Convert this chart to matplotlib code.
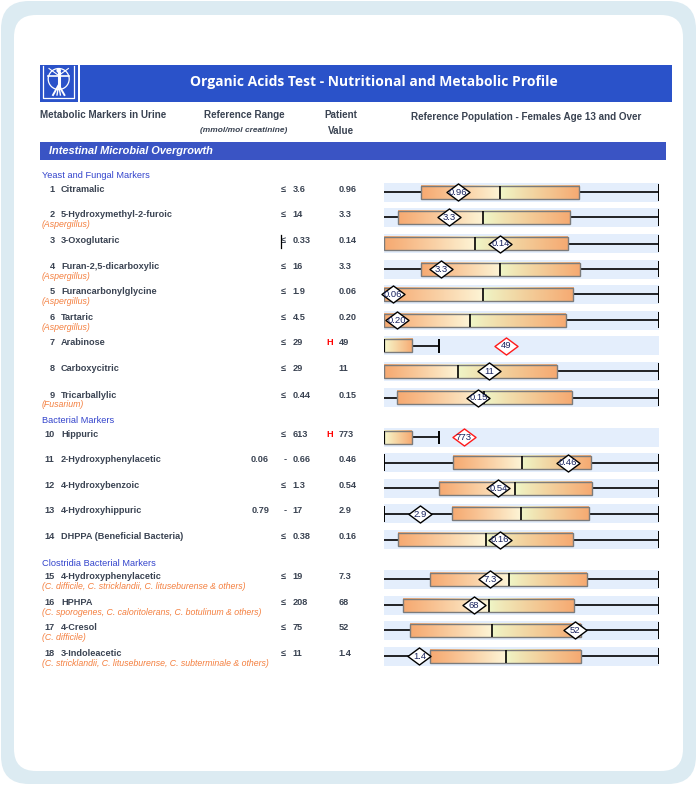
import numpy as np
import matplotlib
matplotlib.use("Agg")
import matplotlib.pyplot as plt
from matplotlib.patches import FancyBboxPatch, Rectangle, Circle
from matplotlib.path import Path
from matplotlib.colors import to_rgb

# ---------------- data ----------------
title = "Organic Acids Test - Nutritional and Metabolic Profile"
section = "Intestinal Microbial Overgrowth"
groups = ["Yeast and Fungal Markers", "Bacterial Markers", "Clostridia Bacterial Markers"]
group_first_row = [1, 10, 15]
numbers = list(range(1, 19))
names = ["Citramalic", "5-Hydroxymethyl-2-furoic", "3-Oxoglutaric", "Furan-2,5-dicarboxylic",
         "Furancarbonylglycine", "Tartaric", "Arabinose", "Carboxycitric", "Tricarballylic",
         "Hippuric", "2-Hydroxyphenylacetic", "4-Hydroxybenzoic", "4-Hydroxyhippuric",
         "DHPPA (Beneficial Bacteria)", "4-Hydroxyphenylacetic", "HPHPA", "4-Cresol", "3-Indoleacetic"]
sublabels = ["", "(Aspergillus)", "", "(Aspergillus)", "(Aspergillus)", "(Aspergillus)", "", "",
             "(Fusarium)", "", "", "", "", "",
             "(C. difficile, C. stricklandii, C. lituseburense & others)",
             "(C. sporogenes, C. caloritolerans, C. botulinum & others)",
             "(C. difficile)",
             "(C. stricklandii, C. lituseburense, C. subterminale & others)"]
ref_low = ["", "", "", "", "", "", "", "", "", "", "0.06", "", "0.79", "", "", "", "", ""]
ref_high = ["3.6", "14", "0.33", "16", "1.9", "4.5", "29", "29", "0.44", "613", "0.66", "1.3",
            "17", "0.38", "19", "208", "75", "11"]
patient = ["0.96", "3.3", "0.14", "3.3", "0.06", "0.20", "49", "11", "0.15", "773", "0.46",
           "0.54", "2.9", "0.16", "7.3", "68", "52", "1.4"]
flag_high = [False] * 6 + [True] + [False] * 2 + [True] + [False] * 8

# reference-population box plots, positions in % of the track width
box_lo = [13.5, 5.1, 0, 13.5, 0, 0, 0, 0, 4.9, 0, 25.3, 20.2, 24.9, 5.2, 16.9, 7.0, 9.6, 16.9]
box_hi = [71.1, 67.8, 67.0, 71.4, 68.9, 66.3, 10.3, 63.0, 68.5, 10.1, 75.4, 75.8, 74.7, 68.9,
          74.0, 69.2, 71.8, 71.8]
box_med = [42.4, 36.2, 33.3, 42.4, 35.9, 31.3, None, 26.8, 36.6, None, 50.3, 47.9, 49.9, 37.0,
           45.5, 38.1, 39.5, 44.3]
whisk_hi = [100, 100, 100, 100, 100, 100, 20.2, 100, 100, 20.2, 100, 100, 100, 100, 100, 100, 100, 100]
left_tick = [False] * 10 + [True, False, True] + [False] * 5
patient_pos = [26.8, 23.7, 42.4, 20.8, 3.2, 4.6, 44.6, 38.2, 34.4, 29.1, 66.9, 41.7, 13.1, 42.3,
               38.6, 32.8, 69.5, 12.9]

# ---------------- layout ----------------
W, H = 697, 785
row_y = [192.4, 217.3, 243.5, 269.2, 294.3, 320.2, 345.7, 371.3, 397.5, 437.3, 462.5, 488.3,
         513.8, 539.5, 579.3, 605.3, 630.3, 656.2]
group_y = [175.7, 420.7, 564.0]
TRACK_L, TRACK_R = 384, 658.5

TXT = "#3a4352"
BLUE_HDR = "#3344cc"
ORANGE = "#f47f3e"
FONT = "Liberation Sans"

fig = plt.figure(figsize=(W / 100, H / 100), dpi=100)
bg = fig.add_axes([0, 0, 1, 1])
bg.set_xlim(0, W)
bg.set_ylim(H, 0)
bg.axis("off")

# frame
bg.add_patch(FancyBboxPatch((1, 1), W - 2, H - 2, boxstyle="round,pad=0,rounding_size=28",
                            fc="#dcebf2", ec="none", zorder=0))
bg.add_patch(FancyBboxPatch((14, 15), 669, 756, boxstyle="round,pad=0,rounding_size=22",
                            fc="white", ec="none", zorder=0.5))

# title bar + logo
TB = "#2a52c9"
bg.add_patch(Rectangle((40, 65), 37.5, 36.7, fc=TB, ec="none", zorder=1))
bg.add_patch(Rectangle((80, 65), 592, 36.7, fc=TB, ec="none", zorder=1))
# simple vitruvian logo
lw = 0.9
bg.plot([43, 43, 74, 74], [66, 98, 98, 66], color="white", lw=lw, zorder=2)
bg.add_patch(Circle((58.7, 79), 10.5, fc="none", ec="white", lw=lw, zorder=2))
bg.add_patch(Circle((58.7, 70.5), 2.3, fc="white", ec="none", zorder=2))
bg.plot([58.7, 58.7], [73, 85], color="white", lw=2.2, zorder=2)
bg.plot([48, 69.4], [75.5, 75.5], color="white", lw=1.2, zorder=2)
bg.plot([49, 58.7, 68.4], [68.5, 75.5, 68.5], color="white", lw=0.8, zorder=2)
bg.plot([53, 58.7, 64.4], [95, 85, 95], color="white", lw=1.4, zorder=2)
bg.plot([57, 58.7, 60.4], [95, 85, 95], color="white", lw=1.0, zorder=2)
bg.text(374, 82, title, color="white", fontsize=10.0, fontweight="bold", family="Open Sans",
        ha="center", va="center", zorder=3)

# column headers
hk = dict(color=TXT, fontsize=7.1, fontweight="bold", family=FONT, zorder=3)
bg.text(40, 115.5, "Metabolic Markers in Urine", ha="left", va="center", **hk)
bg.text(244, 115.5, "Reference Range", ha="center", va="center", **hk)
bg.text(244, 130, "(mmol/mol creatinine)", ha="center", va="center", color=TXT, fontsize=6.0,
        fontweight="bold", style="italic", family=FONT, zorder=3)
bg.text(340.5, 115.5, "Patient", ha="center", va="center", **hk)
bg.text(340.5, 130.5, "Value", ha="center", va="center", **hk)
bg.text(526, 116.5, "Reference Population - Females Age 13 and Over", ha="center", va="center", **hk)

# section bar
bg.add_patch(Rectangle((40, 141.5), 625.5, 18, fc="#3a54c4", ec="none", zorder=1))
bg.text(49, 150.5, section, color="white", fontsize=7.9, fontweight="bold", style="italic",
        family=FONT, ha="left", va="center", zorder=3)

# group headers
for g, gy in zip(groups, group_y):
    bg.text(42, gy, g, color=BLUE_HDR, fontsize=6.7, family=FONT, ha="left", va="center", zorder=3)

rk = dict(color=TXT, fontsize=6.6, fontweight="bold", family=FONT, va="center", zorder=3)
for i in range(18):
    y = row_y[i]
    ly = y - 2.5 if sublabels[i] else y - 3
    bg.text(54.5, ly, str(numbers[i]), ha="right", **rk)
    bg.text(61, ly, names[i], ha="left", **rk)
    if sublabels[i]:
        bg.text(41.5, y + 7.2, sublabels[i], ha="left", va="center", color=ORANGE, fontsize=6.3,
                style="italic", family=FONT, zorder=3)
    if ref_low[i]:
        bg.text(269, ly, ref_low[i], ha="right", **rk)
        bg.text(285.5, ly, "-", ha="center", **rk)
    else:
        bg.text(281, ly, "\u2264", ha="left", **rk)
    bg.text(292.5, ly, ref_high[i], ha="left", **rk)
    if flag_high[i]:
        bg.text(326.5, ly, "H", ha="left", color="#ff0000", fontsize=6.6, fontweight="bold",
                family=FONT, va="center", zorder=3)
    bg.text(338.7, ly, patient[i], ha="left", **rk)
# small cursor mark seen in row 3
bg.plot([281.3, 281.3], [234.5, 248], color="black", lw=0.9, zorder=3)

# ---------------- box plots ----------------
bx = fig.add_axes([TRACK_L / W, 0, (TRACK_R - TRACK_L) / W, 1])
bx.set_xlim(0, 100)
bx.set_ylim(H, 0)
bx.axis("off")
bx.patch.set_alpha(0)

BAND_H, BOX_H = 18.7, 13.2
bx.barh(row_y, [100] * 18, left=0, height=BAND_H, color="#e4eefc", zorder=1)

c_or = np.array(to_rgb("#f6aa72"))
c_cr = np.array(to_rgb("#fdf5d6"))
c_gr = np.array(to_rgb("#eff7c8"))
c_ye = np.array(to_rgb("#f7f8cc"))


def grad(lo, hi, med, n=200):
    xs = np.linspace(lo, hi, n)
    out = np.zeros((1, n, 3))
    for k, x in enumerate(xs):
        if med is None:
            t = (x - lo) / (hi - lo)
            out[0, k] = c_ye + (c_or - c_ye) * t
        elif x < med:
            t = (x - lo) / (med - lo)
            out[0, k] = c_or + (c_cr - c_or) * t ** 1.1
        else:
            t = (x - med) / (hi - med)
            out[0, k] = c_gr + (c_or - c_gr) * t ** 0.9
    return out


diamond = Path([(-1, 0), (0, 0.74), (1, 0), (0, -0.74), (-1, 0)],
               [Path.MOVETO, Path.LINETO, Path.LINETO, Path.LINETO, Path.CLOSEPOLY])

for i in range(18):
    y = row_y[i]
    lo, hi, med = box_lo[i], box_hi[i], box_med[i]
    # whiskers
    if lo > 0:
        bx.hlines(y, 0, lo, color="black", lw=1.2, zorder=2)
    bx.hlines(y, hi, whisk_hi[i], color="black", lw=1.2, zorder=2)
    th = 8.2 if whisk_hi[i] == 100 else 6.8
    bx.vlines(whisk_hi[i], y - th, y + th, color="black", lw=1.4, zorder=2)
    if left_tick[i]:
        bx.vlines(0, y - 8.2, y + 8.2, color="black", lw=1.4, zorder=2)
    # box
    bx.imshow(grad(lo, hi, med), extent=(lo, hi, y + BOX_H / 2, y - BOX_H / 2), aspect="auto",
              interpolation="bilinear", zorder=3)
    bx.barh(y, hi - lo, left=lo, height=BOX_H, facecolor="none", edgecolor="#7b7b7b", lw=1.0,
            zorder=4)
    if med is not None:
        bx.vlines(med, y - BOX_H / 2, y + BOX_H / 2, color="black", lw=1.2, zorder=5)
    else:
        bx.vlines(lo, y - BOX_H / 2, y + BOX_H / 2, color="black", lw=1.4, zorder=5)
    # patient marker
    ec = "#ff1a1a" if flag_high[i] else "black"
    bx.plot([patient_pos[i]], [y], marker=diamond, ms=16.6, mfc="white", mec=ec, mew=1.0,
            zorder=6, clip_on=False)
    bx.text(patient_pos[i], y + 0.3, patient[i], ha="center", va="center", fontsize=6.8,
            color="#1a2460", family=FONT, zorder=7, clip_on=False)

bx.set_xlim(0, 100)
bx.set_ylim(H, 0)

fig.savefig("out.png", dpi=100)
